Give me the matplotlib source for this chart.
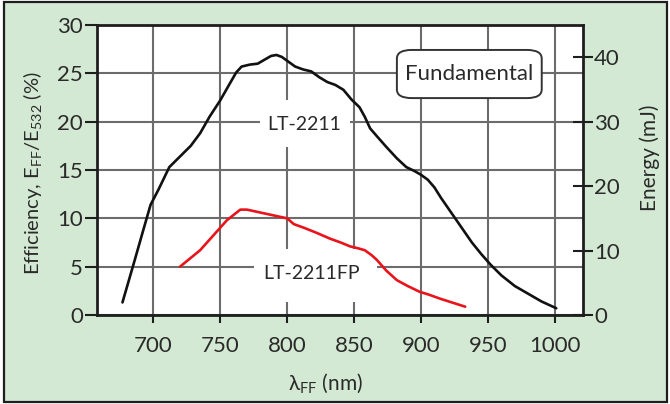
import matplotlib
matplotlib.use("Agg")
import matplotlib.pyplot as plt
from matplotlib.patches import Rectangle, FancyBboxPatch

plt.rcParams["font.family"] = ["Lato", "DejaVu Sans"]
plt.rcParams["mathtext.fontset"] = "custom"
plt.rcParams["mathtext.rm"] = "Lato"
plt.rcParams["mathtext.it"] = "Lato:italic"

# LT-2211 fundamental conversion efficiency (%) vs wavelength (nm)
lt2211_nm = [677, 686, 693, 698, 704, 712, 720, 728, 735, 742, 750, 757, 762,
             766, 772, 778, 783, 788, 792, 796, 800, 806, 812, 818, 824, 830,
             836, 842, 848, 854, 858, 862, 867, 874, 882, 889, 895, 900, 905,
             910, 915, 920, 926, 932, 938, 945, 952, 960, 970, 980, 990, 1001]
lt2211_eff = [1.3, 5.6, 9.0, 11.4, 13.0, 15.3, 16.4, 17.5, 18.8, 20.5, 22.2,
              23.9, 25.1, 25.7, 25.9, 26.0, 26.4, 26.8, 26.9, 26.7, 26.3, 25.7,
              25.4, 25.2, 24.6, 24.1, 23.8, 23.3, 22.3, 21.5, 20.5, 19.3, 18.5,
              17.4, 16.2, 15.3, 14.9, 14.5, 14.0, 13.2, 12.1, 11.1, 9.9, 8.7,
              7.5, 6.3, 5.2, 4.1, 3.0, 2.2, 1.4, 0.7]

# LT-2211FP
lt2211fp_nm = [720, 735, 755, 765, 770, 780, 790, 800, 805, 813, 822, 832, 840,
               847, 853, 858, 863, 867, 874, 882, 890, 899, 906, 914, 923, 933]
lt2211fp_eff = [5.0, 6.7, 9.8, 10.9, 10.9, 10.6, 10.3, 10.0, 9.4, 9.0, 8.5,
                7.9, 7.5, 7.1, 6.9, 6.7, 6.2, 5.7, 4.6, 3.6, 3.0, 2.4, 2.1, 1.7,
                1.3, 0.86]

x_ticks = [700, 750, 800, 850, 900, 950, 1000]
eff_ticks = [0, 5, 10, 15, 20, 25, 30]
energy_ticks = [0, 10, 20, 30, 40]
energy_per_percent = 1.5

bg = "#d3e9d3"
dark = "#1e1e1e"
grid_c = "#6c6c6c"
text_c = "#2a2a2a"

fig = plt.figure(figsize=(6.70, 4.04), dpi=100)
fig.patch.set_facecolor("white")
fig.patches.append(Rectangle((0.006, 0.004), 0.99, 0.99, transform=fig.transFigure,
                             facecolor=bg, edgecolor=dark, linewidth=1.6, zorder=-10))

ax = fig.add_axes([0.1448, 0.2203, 0.7254, 0.7178])
ax.set_facecolor("white")
ax.set_xlim(658, 1021)
ax.set_ylim(0, 30)
ax.set_xticks(x_ticks)
ax.set_yticks(eff_ticks)
ax.grid(True, color=grid_c, linewidth=1.5)
ax.set_axisbelow(True)
for s in ax.spines.values():
    s.set_linewidth(2.0)
    s.set_color(dark)
ax.tick_params(axis="x", direction="out", length=6, width=1.5, color=dark,
               labelsize=16, pad=9, labelcolor=text_c)
ax.tick_params(axis="y", direction="out", length=9, width=1.5, color=dark,
               labelsize=16, pad=1, labelcolor=text_c)

ax2 = ax.twinx()
ax2.set_ylim(0, 30 * energy_per_percent)
ax2.set_yticks(energy_ticks)
for s in ax2.spines.values():
    s.set_visible(False)
ax2.tick_params(axis="y", direction="inout", length=14, width=1.5, color=dark,
                labelsize=16, pad=1, labelcolor=text_c)

# white knock-out boxes behind the curve labels
ax.add_patch(Rectangle((780, 17.4), 67, 4.85, facecolor="white", edgecolor="none", zorder=1.5))
ax.add_patch(Rectangle((775, 1.35), 92, 5.5, facecolor="white", edgecolor="none", zorder=1.5))

ax.plot(lt2211_nm, lt2211_eff, color="#111111", linewidth=1.9, zorder=3,
        solid_joinstyle="round", solid_capstyle="round")
ax.plot(lt2211fp_nm, lt2211fp_eff, color="#e8141c", linewidth=1.9, zorder=3,
        solid_joinstyle="round", solid_capstyle="round")

ax.text(813, 19.75, "LT-2211", ha="center", va="center", fontsize=14,
        color=text_c, zorder=4)
ax.text(818, 4.3, "LT-2211FP", ha="center", va="center", fontsize=14,
        color=text_c, zorder=4)

ax.add_patch(FancyBboxPatch((0.617, 0.748), 0.298, 0.166,
                            boxstyle="round,pad=0.0,rounding_size=0.03",
                            transform=ax.transAxes, facecolor="white",
                            edgecolor="#333333", linewidth=1.4, zorder=4))
ax.text(0.766, 0.831, "Fundamental", transform=ax.transAxes, ha="center",
        va="center", fontsize=16, color=text_c, zorder=5)

fig.text(0.049, 0.572, r"Efficiency, E$_{\mathrm{FF}}$/E$_{\mathrm{532}}$ (%)",
         rotation=90, ha="center", va="center", fontsize=14.5, color=text_c)
fig.text(0.97, 0.61, "Energy (mJ)", rotation=90, ha="center", va="center",
         fontsize=15, color=text_c)
fig.text(0.485, 0.052, r"λ$_{\mathrm{FF}}$ (nm)", ha="center", va="center",
         fontsize=15, color=text_c)

fig.savefig("out.png", dpi=100, facecolor=fig.get_facecolor())
